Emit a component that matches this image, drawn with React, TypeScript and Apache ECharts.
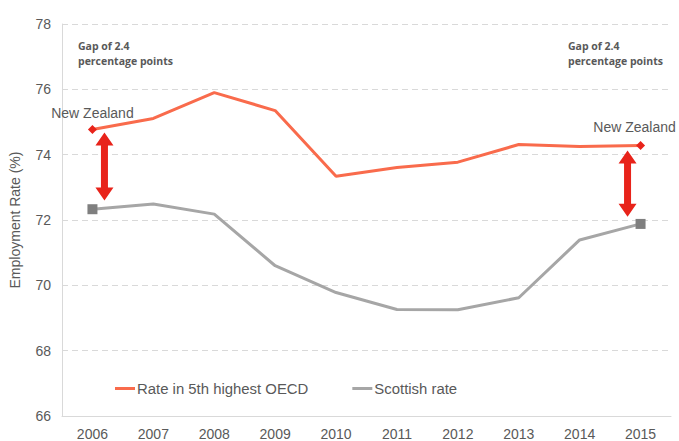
import React, { useEffect, useRef } from "react";
import * as echarts from "echarts";

const years = ["2006", "2007", "2008", "2009", "2010", "2011", "2012", "2013", "2014", "2015"];
const oecdRate = [74.77, 75.11, 75.9, 75.35, 73.34, 73.61, 73.77, 74.31, 74.25, 74.28];
const scottishRate = [72.33, 72.49, 72.18, 70.6, 69.78, 69.26, 69.25, 69.62, 71.39, 71.88];
// gap arrows: [category index, top value, bottom value]
const gapArrows = [
  [0, 74.68, 72.6],
  [9, 74.13, 72.1],
];
const arrowOffsets = [12, -13];
const yTicks = { min: 66, max: 78, interval: 2 };

const TEXT = "#595959";
const FONT = "'Liberation Sans', Arial, sans-serif";

export default function App() {
  const ref = useRef<HTMLDivElement>(null);
  useEffect(() => {
    const chart = echarts.init(ref.current!, null, { renderer: "svg" });
    const last = years.length - 1;
    const nzLabel = (isLast: boolean) => ({
      show: true,
      position: "top",
      distance: isLast ? 7 : 5,
      offset: isLast ? [-6, 0] : [0, 0],
      formatter: "New Zealand",
      color: TEXT,
      fontSize: 14,
      fontFamily: FONT,
    });
    chart.setOption({
      animation: false,
      textStyle: { fontFamily: FONT },
      grid: { left: 58, right: 8, top: 24, bottom: 23, containLabel: false },
      legend: {
        data: [
          { name: "Rate in 5th highest OECD", icon: "rect" },
          { name: "Scottish rate", icon: "rect" },
        ],
        left: 115,
        top: 381,
        padding: 0,
        itemWidth: 20,
        itemHeight: 3,
        itemGap: 44,
        textStyle: { color: TEXT, fontSize: 14.9, fontFamily: FONT, padding: [0, 0, 0, -3] },
      },
      xAxis: {
        type: "category",
        data: years,
        boundaryGap: true,
        axisLine: { show: true, lineStyle: { color: "#d9d9d9" } },
        axisTick: { show: false },
        axisLabel: { color: TEXT, fontSize: 14, fontFamily: FONT, margin: 11 },
        splitLine: { show: false },
      },
      yAxis: {
        type: "value",
        min: yTicks.min,
        max: yTicks.max,
        interval: yTicks.interval,
        name: "Employment Rate (%)",
        nameLocation: "middle",
        nameGap: 40,
        nameTextStyle: { color: TEXT, fontSize: 14, fontFamily: FONT },
        axisLine: { show: true, lineStyle: { color: "#d9d9d9" } },
        axisTick: { show: false },
        axisLabel: { color: TEXT, fontSize: 14, fontFamily: FONT, margin: 11 },
        splitLine: { show: true, lineStyle: { color: "#d9d9d9", type: [6, 4] } },
      },
      graphic: [
        {
          type: "text",
          left: 78,
          top: 38,
          style: {
            text: "Gap of 2.4\npercentage points",
            fill: TEXT,
            font: "bold 10.5px 'Open Sans', sans-serif",
            lineHeight: 15,
          },
        },
        {
          type: "text",
          left: 568,
          top: 38,
          style: {
            text: "Gap of 2.4\npercentage points",
            fill: TEXT,
            font: "bold 10.5px 'Open Sans', sans-serif",
            lineHeight: 15,
          },
        },
      ],
      series: [
        {
          name: "Rate in 5th highest OECD",
          type: "line",
          color: "#f96b4c",
          lineStyle: { width: 3, color: "#f96b4c" },
          data: oecdRate.map((v, i) =>
            i === 0 || i === last
              ? { value: v, symbol: "diamond", symbolSize: 9, itemStyle: { color: "#e8231a" }, label: nzLabel(i === last) }
              : { value: v, symbol: "none" }
          ),
          z: 3,
        },
        {
          name: "Scottish rate",
          type: "line",
          color: "#a6a6a6",
          lineStyle: { width: 3, color: "#a6a6a6" },
          data: scottishRate.map((v, i) =>
            i === 0 || i === last
              ? { value: v, symbol: "rect", symbolSize: 10, itemStyle: { color: "#7f7f7f" } }
              : { value: v, symbol: "none" }
          ),
          z: 3,
        },
        {
          name: "gap",
          type: "custom",
          data: gapArrows,
          encode: { x: 0, y: [1, 2] },
          clip: false,
          z: 4,
          renderItem: (params: any, api: any) => {
            const idx = params.dataIndex;
            const p1 = api.coord([api.value(0), api.value(1)]);
            const p2 = api.coord([api.value(0), api.value(2)]);
            const x = p1[0] + arrowOffsets[idx];
            const y1 = p1[1];
            const y2 = p2[1];
            const hw = 9;
            const hh = 13;
            const sw = 3.5;
            return {
              type: "polygon",
              shape: {
                points: [
                  [x, y1],
                  [x + hw, y1 + hh],
                  [x + sw, y1 + hh],
                  [x + sw, y2 - hh],
                  [x + hw, y2 - hh],
                  [x, y2],
                  [x - hw, y2 - hh],
                  [x - sw, y2 - hh],
                  [x - sw, y1 + hh],
                  [x - hw, y1 + hh],
                ],
              },
              style: { fill: "#e8231a" },
            };
          },
        },
      ],
    });
    return () => chart.dispose();
  }, []);
  return <div ref={ref} style={{ width: 679, height: 441, position: "absolute", left: 0, top: 0 }} />;
}
